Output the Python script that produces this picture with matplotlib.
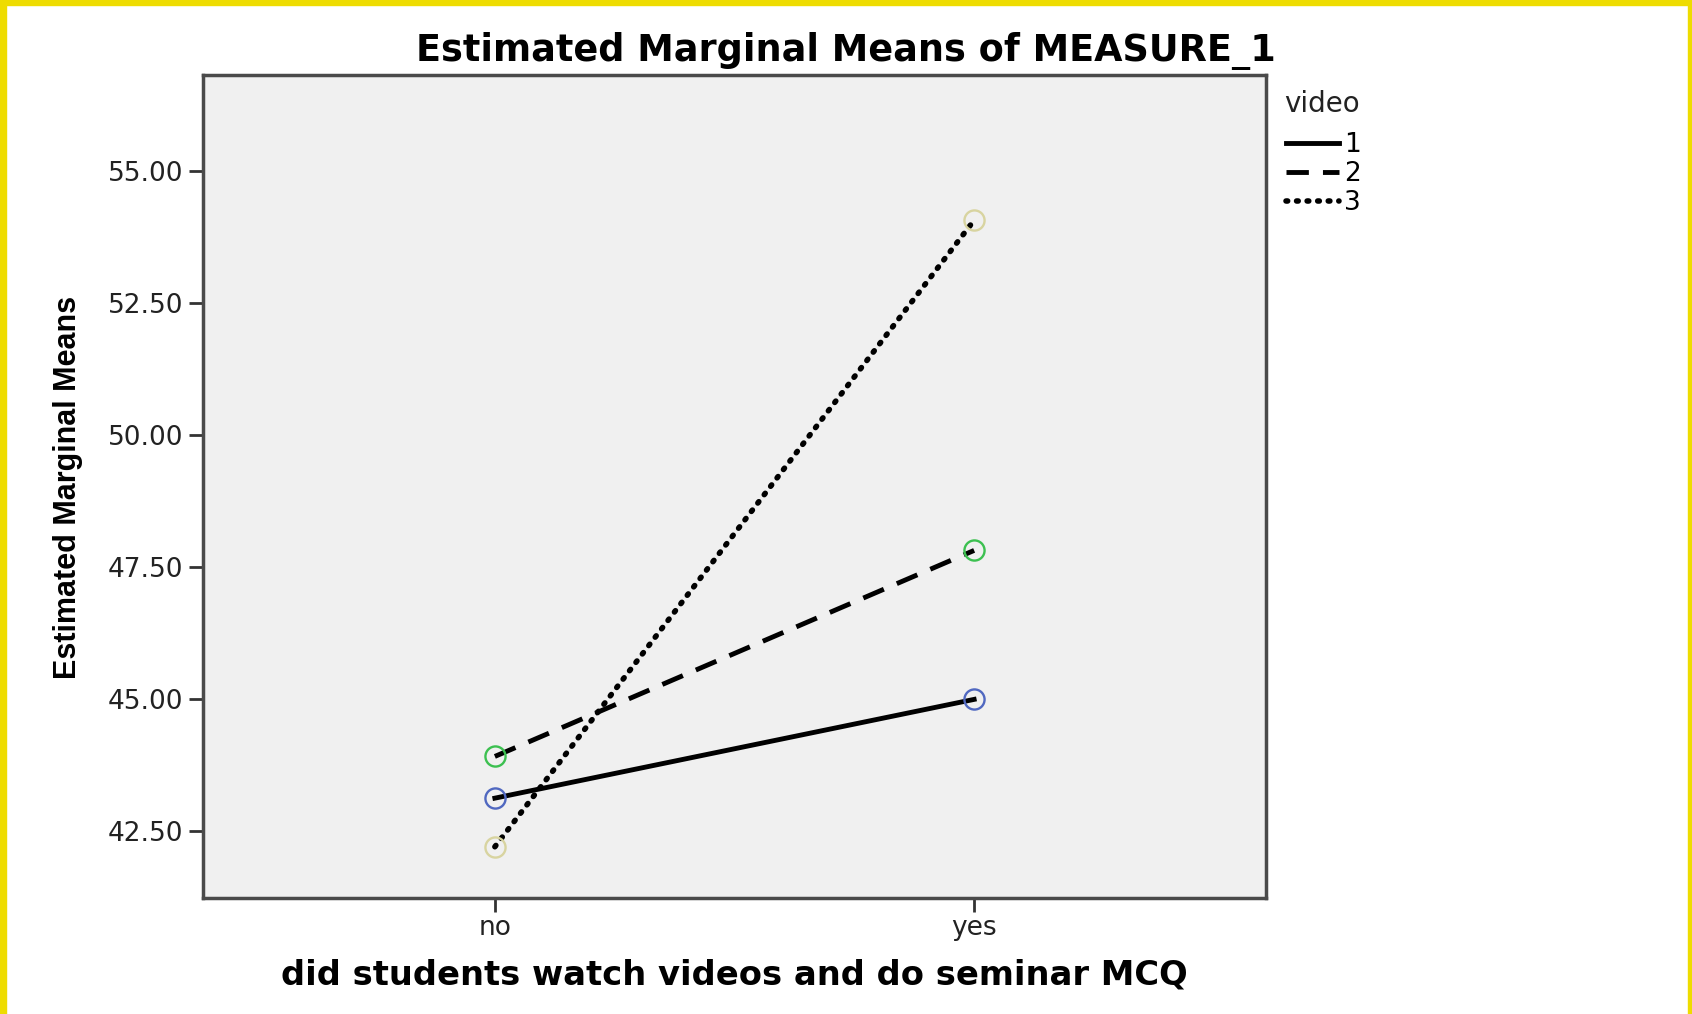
import matplotlib
matplotlib.use("Agg")
import matplotlib.pyplot as plt
from matplotlib.patches import Rectangle

# ---- data ----
categories = ["no", "yes"]
video_labels = ["1", "2", "3"]
video1 = [43.12, 44.99]
video2 = [43.91, 47.81]
video3 = [42.20, 54.06]
yticks = [42.5, 45.0, 47.5, 50.0, 52.5, 55.0]

title = "Estimated Marginal Means of MEASURE_1"
ylabel = "Estimated Marginal Means"
xlabel = "did students watch videos and do seminar MCQ"
legend_title = "video"

W, H = 1692, 1014
fig = plt.figure(figsize=(W / 100, H / 100), dpi=100)
fig.patch.set_facecolor("white")

# yellow border
yel = "#eedc00"
fig.patches.append(Rectangle((0, 1 - 5 / H), 1, 5 / H, transform=fig.transFigure, color=yel, zorder=10))
fig.patches.append(Rectangle((0, 0), 6 / W, 1, transform=fig.transFigure, color=yel, zorder=10))
fig.patches.append(Rectangle((1 - 4 / W, 0), 4 / W, 1, transform=fig.transFigure, color=yel, zorder=10))

left, right = 203 / W, 1266 / W
bottom, top = 1 - 898 / H, 1 - 75 / H
ax = fig.add_axes([left, bottom, right - left, top - bottom])
ax.set_facecolor("#f0f0f0")

x = list(range(len(categories)))
series = [video1, video2, video3]
styles = [
    dict(linestyle="-", lw=3.5),
    dict(linestyle=(0, (4.6, 2.9)), lw=3.5),
    dict(linestyle=(0, (0.3, 1.6)), dash_capstyle="round", lw=4.0),
]
mcolors = ["#5068c0", "#3cc050", "#d8d4a0"]
for vals, st, mc, lab in zip(series, styles, mcolors, video_labels):
    ax.plot(x, vals, color="black", label=lab, zorder=3, **st)
    ax.plot(x, vals, linestyle="none", marker="o", markersize=14.5,
            markerfacecolor="none", markeredgecolor=mc, markeredgewidth=1.7, zorder=4)

ax.set_xlim(-0.609, 1.609)
ax.set_ylim(41.23, 56.81)
ax.set_xticks(x)
ax.set_xticklabels(categories, fontsize=19, color="#222222")
ax.set_yticks(yticks)
ax.set_yticklabels([f"{v:.2f}" for v in yticks], fontsize=19, color="#222222")
ax.tick_params(axis="both", direction="out", length=10, width=2, color="#333333")
ax.tick_params(axis="y", pad=4)
ax.tick_params(axis="x", pad=2)
for sp in ax.spines.values():
    sp.set_color("#4a4a4a")
    sp.set_linewidth(2.5)

leg = ax.legend(loc="upper left", bbox_to_anchor=(1286 / W, 1 - 132 / H),
                bbox_transform=fig.transFigure, frameon=False, fontsize=19,
                handlelength=2.0, handletextpad=0.2,
                labelspacing=0.12, borderaxespad=0, borderpad=0)
fig.text(1284 / W, 1 - 104 / H, legend_title, ha="left", va="center", fontsize=20,
         color="#222222")

fig.text(846 / W, 1 - 51 / H, title, ha="center", va="center", fontsize=26.4,
         fontweight="bold", family="DejaVu Sans")
fig.text(68 / W, 1 - 487 / H, ylabel, ha="center", va="center", rotation=90,
         fontsize=22, fontweight="bold", family=["Liberation Sans", "DejaVu Sans"])
fig.text((left + right) / 2, 1 - 975 / H, xlabel, ha="center", va="center",
         fontsize=24.3, fontweight="bold", family="DejaVu Sans")

fig.savefig("out.png", dpi=100)
